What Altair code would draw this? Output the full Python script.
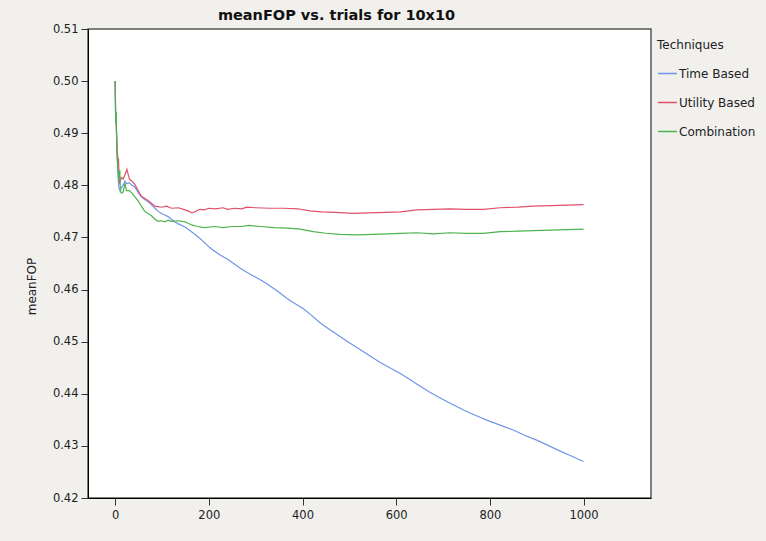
import altair as alt
import pandas as pd

# Mean FOP over trials for each technique (10x10 grid)
techniques = ["Time Based", "Utility Based", "Combination"]
colors = ["#6f94ea", "#e0506b", "#4db34d"]

time_trials = [0, 1, 2, 4, 6, 8, 10, 13, 17, 21, 25, 30, 36, 42, 50, 56, 63, 70, 78, 85,
               92, 99, 106, 113, 120, 127, 135, 149, 160, 170, 181, 191, 200, 210, 225, 240,
               253, 267, 281, 295, 310, 324, 340, 354, 367, 380, 395, 402, 420, 438, 460, 480,
               500, 523, 545, 566, 590, 609, 630, 647, 670, 690, 708, 730, 755, 779, 800, 825,
               851, 875, 900, 922, 950, 975, 1000]
time_fop = [0.500, 0.493, 0.494, 0.487, 0.482, 0.4795, 0.4790, 0.4795, 0.4800, 0.4808,
            0.4803, 0.4805, 0.4800, 0.4797, 0.4785, 0.4778, 0.4773, 0.4769, 0.4762, 0.4756,
            0.4750, 0.4746, 0.4743, 0.4740, 0.4735, 0.4730, 0.4726, 0.4720, 0.4713, 0.4706,
            0.4698, 0.4690, 0.4682, 0.4675, 0.4666, 0.4658, 0.4650, 0.4641, 0.4633, 0.4626,
            0.4619, 0.4611, 0.4601, 0.4592, 0.4583, 0.4575, 0.4567, 0.4563, 0.4550, 0.4536,
            0.4522, 0.4510, 0.4498, 0.4485, 0.4472, 0.4460, 0.4448, 0.4439, 0.4427, 0.4417,
            0.4404, 0.4394, 0.4385, 0.4375, 0.4364, 0.4355, 0.4347, 0.4339, 0.4330, 0.4320,
            0.4311, 0.4302, 0.4290, 0.4280, 0.4270]

utility_trials = [0, 1, 2, 4, 6, 7, 9, 11, 13, 17, 20, 23, 25, 28, 31, 36, 42, 49, 56, 63,
                  70, 78, 85, 92, 99, 110, 120, 135, 149, 158, 164, 170, 181, 191, 200, 215,
                  230, 240, 255, 270, 281, 300, 330, 360, 390, 416, 440, 470, 508, 540, 580,
                  609, 644, 680, 715, 750, 786, 822, 860, 893, 930, 965, 1000]
utility_fop = [0.500, 0.494, 0.492, 0.487, 0.4850, 0.4852, 0.4805, 0.4808, 0.4815, 0.4812,
               0.4818, 0.4825, 0.4831, 0.4820, 0.4811, 0.4808, 0.4802, 0.4790, 0.4779, 0.4775,
               0.4771, 0.4765, 0.4760, 0.4759, 0.4758, 0.4760, 0.4756, 0.4757, 0.4753, 0.4750,
               0.4747, 0.4749, 0.4754, 0.4753, 0.4756, 0.4755, 0.4757, 0.4754, 0.4756, 0.4755,
               0.4758, 0.4757, 0.4756, 0.4756, 0.4755, 0.4751, 0.4749, 0.4748, 0.4746, 0.4747,
               0.4748, 0.4749, 0.4753, 0.4754, 0.4755, 0.4754, 0.4754, 0.4757, 0.4758, 0.4760,
               0.4761, 0.4762, 0.4763]

combo_trials = [0, 1, 2, 4, 6, 8, 10, 11, 13, 17, 21, 24, 30, 36, 42, 49, 56, 63, 70, 77,
                85, 92, 99, 106, 113, 120, 135, 149, 163, 175, 191, 212, 230, 250, 270, 285,
                310, 340, 370, 395, 423, 450, 480, 516, 550, 580, 609, 644, 680, 715, 750,
                786, 822, 860, 893, 930, 965, 1000]
combo_fop = [0.500, 0.4919, 0.4941, 0.4855, 0.4830, 0.4810, 0.4829, 0.4791, 0.4785, 0.4787,
             0.4804, 0.4790, 0.4790, 0.4785, 0.4778, 0.4770, 0.4760, 0.4750, 0.4746, 0.4742,
             0.4735, 0.4731, 0.4732, 0.4730, 0.4733, 0.4731, 0.4732, 0.4730, 0.4724, 0.4721,
             0.4719, 0.4721, 0.4719, 0.4721, 0.4721, 0.4723, 0.4721, 0.4719, 0.4718, 0.4716,
             0.4711, 0.4708, 0.4706, 0.4705, 0.4706, 0.4707, 0.4708, 0.4709, 0.4707, 0.4709,
             0.4708, 0.4708, 0.4711, 0.4712, 0.4713, 0.4714, 0.4715, 0.4716]

x_ticks = [0, 200, 400, 600, 800, 1000]
y_ticks = [0.42, 0.43, 0.44, 0.45, 0.46, 0.47, 0.48, 0.49, 0.50, 0.51]

rows = []
for name, ts, vs in zip(techniques,
                        [time_trials, utility_trials, combo_trials],
                        [time_fop, utility_fop, combo_fop]):
    rows += [{"trial": t, "meanFOP": v, "technique": name} for t, v in zip(ts, vs)]
df = pd.DataFrame(rows)

FONT = "DejaVu Sans"

chart = alt.Chart(df).mark_line(strokeWidth=1.2, clip=True).encode(
    x=alt.X("trial:Q",
            scale=alt.Scale(domain=[-58, 1144], nice=False, zero=False),
            axis=alt.Axis(values=x_ticks, title=None, grid=False, format="d",
                          domainColor="#000", tickColor="#333", tickSize=7,
                          labelPadding=4, labelFont=FONT, labelFontSize=11.5,
                          labelColor="#222")),
    y=alt.Y("meanFOP:Q",
            scale=alt.Scale(domain=[0.42, 0.51], nice=False, zero=False),
            axis=alt.Axis(values=y_ticks, format=".2f", title="meanFOP", grid=False,
                          domainColor="#000", tickColor="#333", tickSize=7,
                          labelPadding=3, labelFont=FONT, labelFontSize=11.5,
                          labelColor="#222", titleFont=FONT, titleFontSize=12,
                          titleFontWeight="normal", titleColor="#222",
                          titleX=-50, titleY=257)),
    color=alt.Color("technique:N",
                    scale=alt.Scale(domain=techniques, range=colors),
                    legend=alt.Legend(title="Techniques", orient="none",
                                      legendX=569, legendY=11,
                                      symbolType="stroke", symbolSize=361,
                                      symbolStrokeWidth=1.5, labelOffset=1,
                                      rowPadding=12, titlePadding=11,
                                      titleFont=FONT, titleFontSize=12,
                                      titleFontWeight="normal", titleColor="#222",
                                      labelFont=FONT, labelFontSize=12,
                                      labelColor="#222")),
).properties(
    width=563,
    height=469,
    title=alt.TitleParams("meanFOP vs. trials for 10x10", font=FONT, fontSize=14.5,
                          fontWeight="bold", color="#111", anchor="middle",
                          dx=-33, offset=0),
    background="#f1f0ed",
    padding={"left": 88, "top": 29, "right": 115, "bottom": 43},
    autosize="none",
).configure_view(fill="white", stroke="#555", strokeWidth=1.5)

chart.save("out.html", embed_options={"renderer": "svg", "actions": False})
